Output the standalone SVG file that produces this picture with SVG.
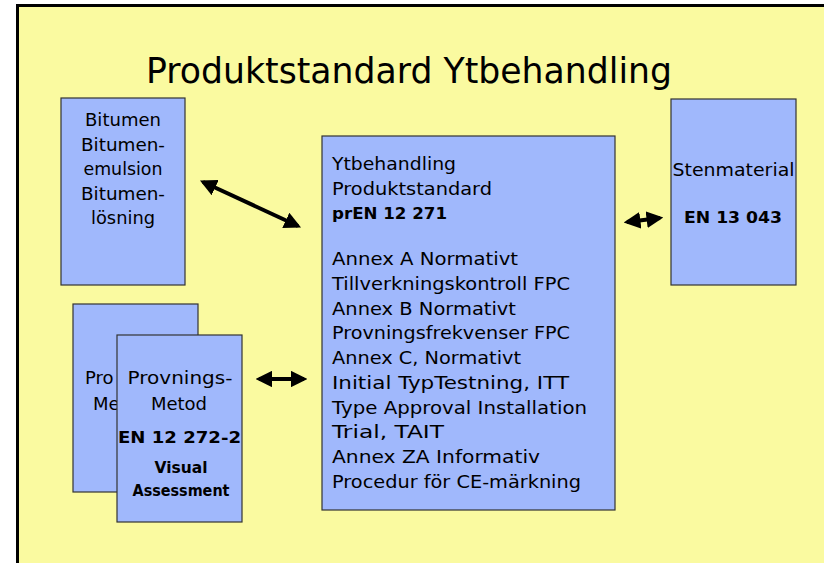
<svg xmlns="http://www.w3.org/2000/svg" width="824" height="563" viewBox="0 0 824 563">
<defs>
<style>
.box{fill:#A0B8FC;stroke:#333;stroke-width:1.2}
.t{font-family:"DejaVu Sans","Liberation Sans",sans-serif;font-size:17px;fill:#000}
.m{font-size:18px}
.b{font-family:"DejaVu Sans","Liberation Sans",sans-serif;font-size:15px;font-weight:bold;fill:#000}
.c{text-anchor:middle}
.arr{stroke:#000;stroke-width:4;fill:none;marker-start:url(#ah);marker-end:url(#ah)}
</style>
<marker id="ah" viewBox="0 0 10 10" refX="8" refY="5" markerWidth="4.2" markerHeight="4.2" orient="auto-start-reverse" markerUnits="strokeWidth">
<path d="M0,0 L10,5 L0,10 Z" fill="#000"/>
</marker>
</defs>
<rect x="0" y="0" width="824" height="563" fill="#fff"/>
<rect x="17.5" y="5.5" width="830" height="580" fill="#FAFAA0" stroke="#000" stroke-width="3"/>
<text x="146" y="83" class="t" style="font-size:35px" textLength="526" lengthAdjust="spacingAndGlyphs">Produktstandard Ytbehandling</text>

<g id="bitumen">
<rect class="box" x="61" y="98" width="124" height="187"/>
<text class="t m c" x="123" y="126" textLength="76" lengthAdjust="spacingAndGlyphs">Bitumen</text>
<text class="t m c" x="123" y="151" textLength="84" lengthAdjust="spacingAndGlyphs">Bitumen-</text>
<text class="t m c" x="123" y="175" textLength="79" lengthAdjust="spacingAndGlyphs">emulsion</text>
<text class="t m c" x="123" y="200" textLength="84" lengthAdjust="spacingAndGlyphs">Bitumen-</text>
<text class="t m c" x="123" y="224" textLength="64" lengthAdjust="spacingAndGlyphs">lösning</text>
</g>

<g id="produktstandard">
<rect class="box" x="322" y="136" width="293" height="374"/>
<text class="t" x="332" y="170" textLength="124" lengthAdjust="spacingAndGlyphs">Ytbehandling</text>
<text class="t" x="332" y="195" textLength="160" lengthAdjust="spacingAndGlyphs">Produktstandard</text>
<text class="b" x="332" y="219" textLength="115" lengthAdjust="spacingAndGlyphs">prEN 12 271</text>
<text class="t" x="332" y="265" textLength="186" lengthAdjust="spacingAndGlyphs">Annex A Normativt</text>
<text class="t" x="332" y="290" textLength="238" lengthAdjust="spacingAndGlyphs">Tillverkningskontroll FPC</text>
<text class="t" x="332" y="315" textLength="184" lengthAdjust="spacingAndGlyphs">Annex B Normativt</text>
<text class="t" x="332" y="339" textLength="238" lengthAdjust="spacingAndGlyphs">Provningsfrekvenser FPC</text>
<text class="t" x="332" y="364" textLength="189" lengthAdjust="spacingAndGlyphs">Annex C, Normativt</text>
<text class="t" x="332" y="389" textLength="237" lengthAdjust="spacingAndGlyphs">Initial TypTestning, ITT</text>
<text class="t" x="332" y="414" textLength="255" lengthAdjust="spacingAndGlyphs">Type Approval Installation</text>
<text class="t" x="332" y="438" textLength="112" lengthAdjust="spacingAndGlyphs">Trial, TAIT</text>
<text class="t" x="332" y="463" textLength="208" lengthAdjust="spacingAndGlyphs">Annex ZA Informativ</text>
<text class="t" x="332" y="488" textLength="249" lengthAdjust="spacingAndGlyphs">Procedur för CE-märkning</text>
</g>

<g id="stenmaterial">
<rect class="box" x="671" y="99" width="125" height="186"/>
<text class="t c" x="733.5" y="176" textLength="122" lengthAdjust="spacingAndGlyphs">Stenmaterial</text>
<text class="b c" x="733" y="223" textLength="98" lengthAdjust="spacingAndGlyphs">EN 13 043</text>
</g>

<g id="provning-back">
<rect class="box" x="73" y="304" width="125" height="188"/>
<text class="t m" x="85" y="384">Pro</text>
<text class="t m" x="93" y="410">Me</text>
</g>

<g id="provning-front">
<rect class="box" x="117" y="335" width="125" height="187"/>
<text class="t m c" x="180" y="384" textLength="105" lengthAdjust="spacingAndGlyphs">Provnings-</text>
<text class="t m c" x="179" y="410">Metod</text>
<text class="b c" x="179.5" y="443" textLength="123" lengthAdjust="spacingAndGlyphs">EN 12 272-2</text>
<text class="b c" x="181" y="473" textLength="53" lengthAdjust="spacingAndGlyphs">Visual</text>
<text class="b c" x="181" y="496" textLength="97" lengthAdjust="spacingAndGlyphs">Assessment</text>
</g>

<g id="connectors">
<line class="arr" x1="203" y1="182" x2="298" y2="226"/>
<line class="arr" x1="259" y1="379" x2="304" y2="379"/>
<line class="arr" x1="627" y1="222" x2="660" y2="218"/>
</g>
</svg>
